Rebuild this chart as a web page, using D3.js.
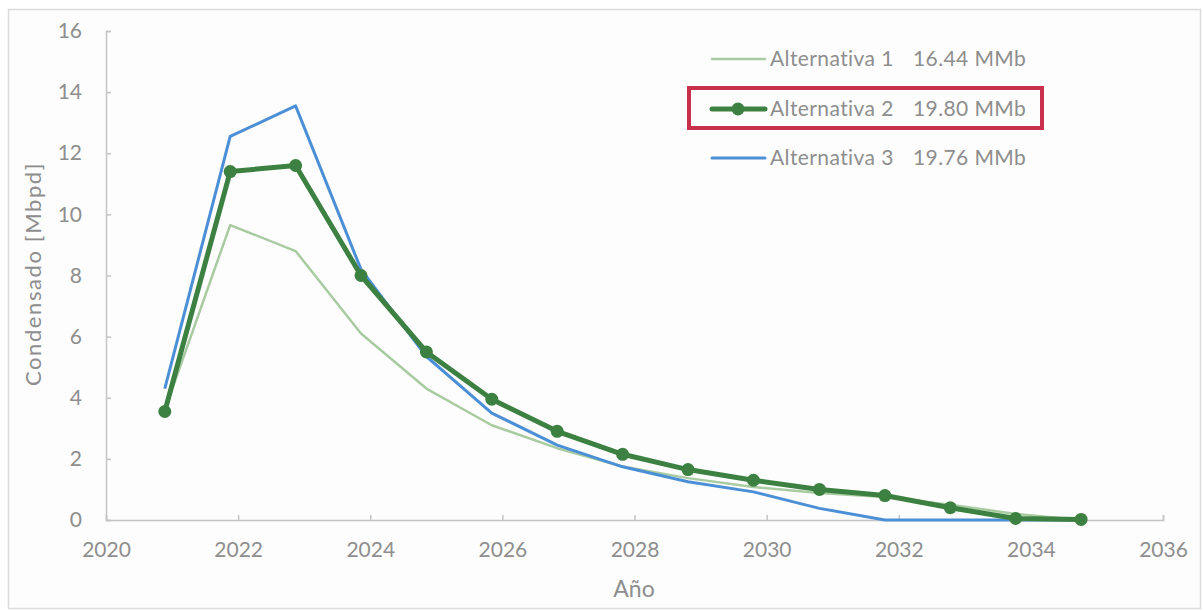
<!DOCTYPE html>
<html>
<head>
<meta charset="utf-8">
<script src="https://cdn.jsdelivr.net/npm/d3@7"></script>
<style>
  html, body { margin: 0; padding: 0; background: #ffffff; }
  svg { display: block; }
  text { font-family: Lato, "Open Sans", sans-serif; fill: #8e8e8e; }
</style>
</head>
<body>
<svg id="chart" width="1203" height="611"></svg>
<script>
// Production time points (fractional years)
const years = [2020.89, 2021.88, 2022.87, 2023.86, 2024.85, 2025.84, 2026.83, 2027.82,
               2028.81, 2029.80, 2030.80, 2031.79, 2032.78, 2033.77, 2034.76];

// Condensate rate per alternative [Mbpd]
const alt1 = [3.6, 9.65, 8.8, 6.1, 4.3, 3.1, 2.35, 1.75, 1.37, 1.08, 0.88, 0.75, 0.5, 0.2, 0.0];
const alt2 = [3.55, 11.4, 11.6, 8.0, 5.5, 3.95, 2.9, 2.15, 1.65, 1.3, 1.0, 0.8, 0.4, 0.05, 0.02];
const alt3 = [4.3, 12.55, 13.55, 8.2, 5.35, 3.5, 2.45, 1.74, 1.25, 0.92, 0.38, 0.0, 0.0, 0.0, 0.0];

const seriesNames  = ["Alternativa 1", "Alternativa 2", "Alternativa 3"];
const seriesTotals = ["16.44 MMb", "19.80 MMb", "19.76 MMb"];

const xTicks = [2020, 2022, 2024, 2026, 2028, 2030, 2032, 2034, 2036];
const yTicks = [0, 2, 4, 6, 8, 10, 12, 14, 16];

const svg = d3.select("#chart");

// outer frame
svg.append("rect")
  .attr("x", 8.5).attr("y", 9.5).attr("width", 1192).attr("height", 599)
  .attr("fill", "#fdfdfd").attr("stroke", "#dcdcdc").attr("stroke-width", 1.5);

const x = d3.scaleLinear().domain([2020, 2036]).range([106, 1163]);
const y = d3.scaleLinear().domain([0, 16]).range([520, 31]);

const axisColor = "#c4c4c4";

// y axis with inward ticks
const gy = svg.append("g").attr("transform", `translate(${x(2020)},0)`)
  .call(d3.axisLeft(y).tickValues(yTicks).tickSize(-5).tickPadding(24).tickFormat(d3.format("d")));
gy.select(".domain").attr("stroke", axisColor).attr("stroke-width", 1.5);
gy.selectAll(".tick line").attr("stroke", axisColor).attr("stroke-width", 1.5);
gy.selectAll(".tick text").attr("font-size", 21).attr("fill", "#8e8e8e")
  .attr("font-family", "Lato, 'Open Sans', sans-serif");

// x axis with inward ticks
const gx = svg.append("g").attr("transform", `translate(0,${y(0)})`)
  .call(d3.axisBottom(x).tickValues(xTicks).tickSize(-5).tickPadding(22).tickFormat(d3.format("d")));
gx.select(".domain").attr("stroke", axisColor).attr("stroke-width", 1.5);
gx.selectAll(".tick line").attr("stroke", axisColor).attr("stroke-width", 1.5);
gx.selectAll(".tick text").attr("font-size", 21).attr("fill", "#8e8e8e")
  .attr("font-family", "Lato, 'Open Sans', sans-serif");

// axis titles
svg.append("text")
  .attr("x", 634).attr("y", 597).attr("text-anchor", "middle")
  .attr("font-size", 23).text("Año");
svg.append("text")
  .attr("transform", "translate(41,274) rotate(-90)")
  .attr("text-anchor", "middle").attr("font-size", 22)
  .attr("letter-spacing", 1.6).text("Condensado [Mbpd]");

const line = d3.line().x((d, i) => x(years[i])).y(d => y(d));

const colors = ["#a9cba1", "#3c8141", "#4b8fd6"];
const widths = [2.5, 5, 3];

// Alternativa 1
svg.append("path").datum(alt1).attr("d", line)
  .attr("fill", "none").attr("stroke", colors[0]).attr("stroke-width", widths[0])
  .attr("stroke-linejoin", "round");

// Alternativa 3
svg.append("path").datum(alt3).attr("d", line)
  .attr("fill", "none").attr("stroke", colors[2]).attr("stroke-width", widths[2])
  .attr("stroke-linejoin", "round");

// Alternativa 2 with markers
svg.append("path").datum(alt2).attr("d", line)
  .attr("fill", "none").attr("stroke", colors[1]).attr("stroke-width", widths[1])
  .attr("stroke-linejoin", "round");
svg.append("g").selectAll("circle").data(alt2).join("circle")
  .attr("cx", (d, i) => x(years[i])).attr("cy", d => y(d))
  .attr("r", 6.5).attr("fill", colors[1]);

// legend
const legend = svg.append("g");
const rowY = [59, 109, 158];
seriesNames.forEach((name, i) => {
  const g = legend.append("g").attr("transform", `translate(0,${rowY[i]})`);
  g.append("line").attr("x1", 712).attr("x2", 765).attr("y1", 0).attr("y2", 0)
    .attr("stroke", colors[i]).attr("stroke-width", widths[i]).attr("stroke-linecap", "round");
  if (i === 1) g.append("circle").attr("cx", 738).attr("cy", 0).attr("r", 6.5).attr("fill", colors[i]);
  g.append("text").attr("x", 770).attr("y", 7).attr("font-size", 21)
    .attr("letter-spacing", 0.4).text(name);
  g.append("text").attr("x", 913).attr("y", 7).attr("font-size", 21)
    .attr("letter-spacing", 0.4).text(seriesTotals[i]);
});

// highlight box around the selected alternative
svg.append("rect")
  .attr("x", 689).attr("y", 88).attr("width", 353).attr("height", 40)
  .attr("fill", "none").attr("stroke", "#c9304b").attr("stroke-width", 4);
</script>
</body>
</html>
